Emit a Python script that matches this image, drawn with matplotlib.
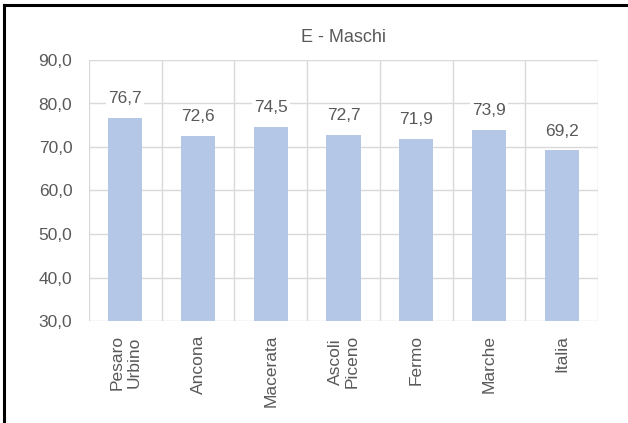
import matplotlib
matplotlib.use("Agg")

import matplotlib.pyplot as plt
from matplotlib.lines import Line2D

categories = ["Pesaro\nUrbino", "Ancona", "Macerata", "Ascoli\nPiceno", "Fermo", "Marche", "Italia"]
values = [76.7, 72.6, 74.5, 72.7, 71.9, 73.9, 69.2]
yticks = [30, 40, 50, 60, 70, 80, 90]

TEXT = "#595959"
GRID = "#D9D9D9"
BAR = "#B4C7E7"
FS = 12.5

plt.rcParams["font.family"] = ["Liberation Sans", "DejaVu Sans"]

fig = plt.figure(figsize=(6.28, 4.23), dpi=100)
W, H = 628, 423
ax = fig.add_axes([89 / W, 1 - 321 / H, (598 - 89) / W, (321 - 60) / H])

x = range(len(categories))
ax.bar(x, values, width=0.47, color=BAR, zorder=2)
ax.set_xlim(-0.5, len(categories) - 0.5)
ax.set_ylim(30, 90)

ax.set_yticks(yticks)
ax.set_yticklabels([f"{v:.1f}".replace(".", ",") for v in yticks])
ax.set_xticks(list(x))
ax.set_xticklabels(categories, rotation=90, va="top", ha="center", linespacing=1.15)
ax.tick_params(axis="both", length=0, colors=TEXT, labelsize=FS)
ax.tick_params(axis="y", pad=12)
ax.tick_params(axis="x", pad=10)

# horizontal gridlines + vertical category separators (Excel style)
ax.yaxis.grid(True, color=GRID, linewidth=1, zorder=0)
for b in range(len(categories) + 1):
    ax.axvline(b - 0.5, color=GRID, linewidth=1, zorder=0)
for s in ax.spines.values():
    s.set_visible(False)

for i, v in enumerate(values):
    ax.annotate(f"{v:.1f}".replace(".", ","), (i, v), xytext=(0, 14),
                textcoords="offset points", ha="center", va="center",
                fontsize=FS, color=TEXT, zorder=3,
                bbox=dict(facecolor="white", edgecolor="none", pad=1.5))

fig.text(0.5 * (89 + 598) / W, 1 - 37 / H, "E - Maschi", ha="center", va="center",
         fontsize=13, color=TEXT)

# black frame of the document box (top and left edge)
fig.add_artist(Line2D([4 / W, 4 / W], [0, 1 - 5 / H], color="black", linewidth=2.2,
                      transform=fig.transFigure))
fig.add_artist(Line2D([4 / W, 1], [1 - 5 / H, 1 - 5 / H], color="black", linewidth=2.2,
                      transform=fig.transFigure))

fig.savefig("out.png", dpi=100)
